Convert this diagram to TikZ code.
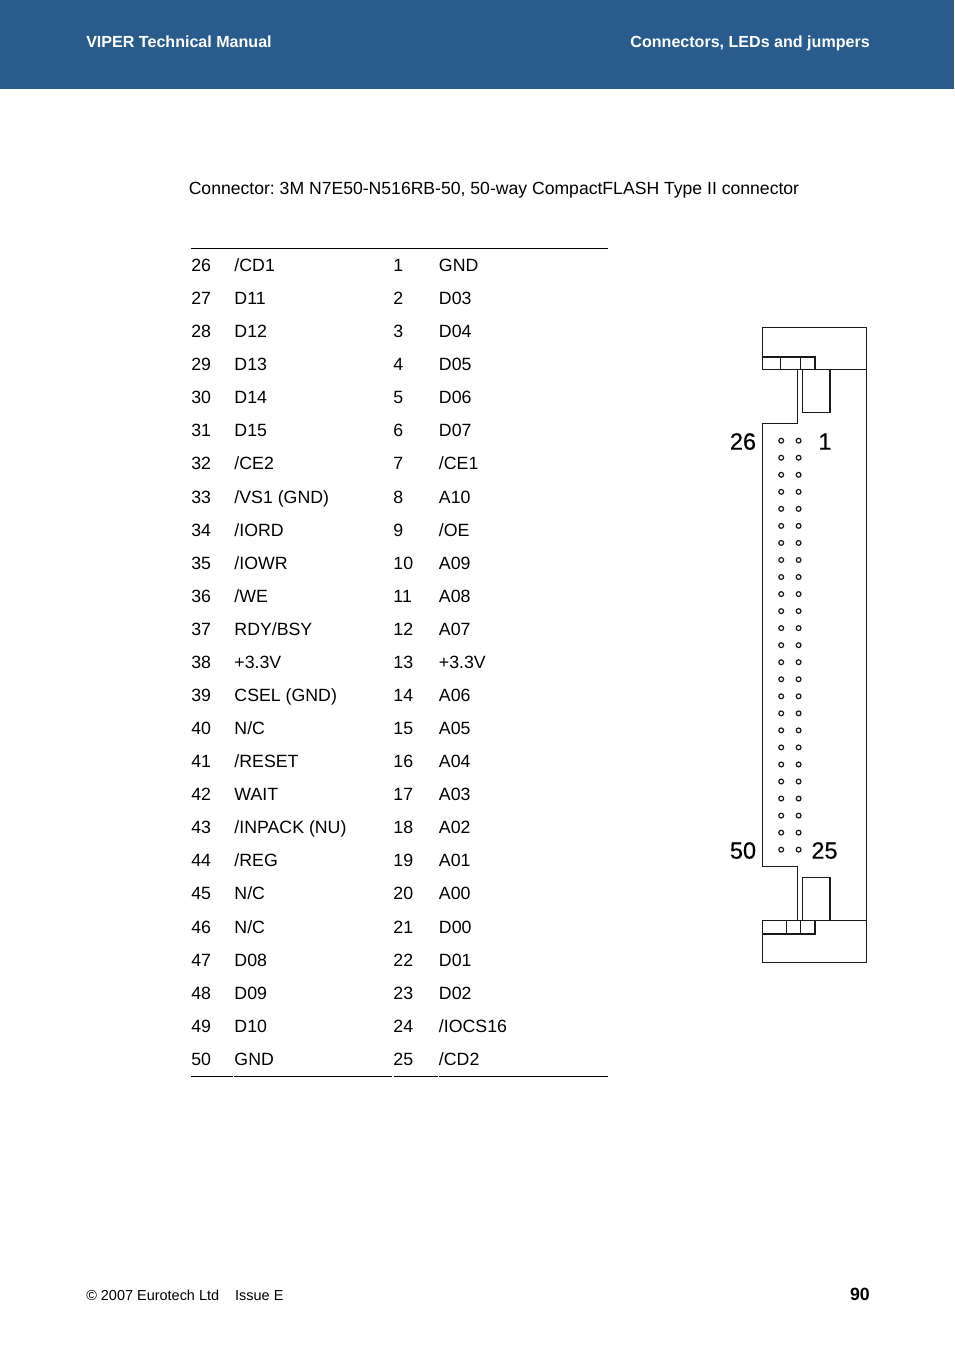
\documentclass[tikz,border=0pt]{standalone}
\usepackage{fontspec}
\setmainfont{Liberation Sans}
\newfontfamily\bignumfont[FakeBold=0.5]{Liberation Sans}
\definecolor{headerblue}{HTML}{2A5B8D}
\frenchspacing
\tikzset{
	pinlabel/.style={anchor=base west,inner sep=0pt,font=\fontsize{13.3}{16}\selectfont},
	headlabel/.style={inner sep=0pt,text=white,font=\fontsize{12.05}{15}\selectfont\bfseries},
	bignum/.style={inner sep=0pt,anchor=base,font=\fontsize{17.6}{20}\bignumfont},
	outline/.style={line width=0.9pt,black!90},
	rowrule/.style={line width=0.75pt,black}
}
\begin{document}
\begin{tikzpicture}[x=0.75pt,y=-0.75pt]
	\useasboundingbox (0,0) rectangle (954,1350);
	%HEADER
	\fill[headerblue] (0,0) rectangle (954,89);
	\node[headlabel,anchor=base west] (manual) at (86,47) {VIPER Technical Manual};
	\node[headlabel,anchor=base east] (chapter) at (870,47) {Connectors, LEDs and jumpers};
	%TITLE
	\node[pinlabel,font=\fontsize{13.2}{16}\selectfont] (title) at (188.5,194) {Connector: 3M N7E50-N516RB-50, 50-way CompactFLASH Type II connector};
	%TABLE
	\draw[rowrule] (191,248)--(608,248);
	\foreach \a/\b/\c/\d [count=\i from 0] in {
		26/{/CD1}/1/GND, 27/D11/2/D03, 28/D12/3/D04, 29/D13/4/D05, 30/D14/5/D06,
		31/D15/6/D07, 32/{/CE2}/7/{/CE1}, 33/{/VS1 (GND)}/8/A10, 34/{/IORD}/9/{/OE},
		35/{/IOWR}/10/A09, 36/{/WE}/11/A08, 37/{RDY/BSY}/12/A07, 38/+3.3V/13/+3.3V,
		39/{CSEL (GND)}/14/A06, 40/{N/C}/15/A05, 41/{/RESET}/16/A04, 42/WAIT/17/A03,
		43/{/INPACK (NU)}/18/A02, 44/{/REG}/19/A01, 45/{N/C}/20/A00, 46/{N/C}/21/D00,
		47/D08/22/D01, 48/D09/23/D02, 49/D10/24/{/IOCS16}, 50/GND/25/{/CD2}}{
		\node[pinlabel] (pinA\i) at (191,271.45+33.08*\i) {\a};
		\node[pinlabel] (nameA\i) at (234.2,271.45+33.08*\i) {\b};
		\node[pinlabel] (pinB\i) at (393.2,271.45+33.08*\i) {\c};
		\node[pinlabel] (nameB\i) at (438.7,271.45+33.08*\i) {\d};
	}
	\draw[rowrule] (191,1076.5)--(232.5,1076.5) (233.5,1076.5)--(392,1076.5);
	\draw[rowrule] (393.5,1076.5)--(437.5,1076.5) (438.5,1076.5)--(608,1076.5);
	%CONNECTOR TOP
	\draw[outline] (762.7,327.7) rectangle (866.7,369.5);
	\draw[outline] (762.7,356.9) rectangle (815,369.5);
	\draw[outline] (780.7,356.9)--(780.7,369.5) (800.3,356.9)--(800.3,369.5);
	\draw[outline] (802.3,369.5) rectangle (829.9,412.5);
	%CONNECTOR BODY
	\draw[outline] (797.5,369.5)--(797.5,423.3)--(762.7,423.3)--(762.7,866.2)--(797.5,866.2)--(797.5,920.5);
	\draw[outline] (866.7,369.5)--(866.7,920.5);
	%CONNECTOR BOTTOM
	\draw[outline] (762.7,920.5) rectangle (866.7,962.5);
	\draw[outline] (762.7,920.5) rectangle (815,933.9);
	\draw[outline] (786.3,920.5)--(786.3,933.9) (800.3,920.5)--(800.3,933.9);
	\draw[outline] (802.3,877.5) rectangle (829.9,920.5);
	%HOLES
	\foreach \i in {0,...,24}{
		\draw[outline] (781.2,440.7+17.04*\i) circle (2.4) (798.6,440.7+17.04*\i) circle (2.4);
	}
	\node[bignum] (pin26) at (743,449.6) {26};
	\node[bignum] (pin1) at (825,449.6) {1};
	\node[bignum] (pin50) at (743,858.6) {50};
	\node[bignum] (pin25) at (824.5,858.6) {25};
	%FOOTER
	\node[inner sep=0pt,anchor=base west,font=\fontsize{10.85}{13}\selectfont] (issue) at (86,1300) {© 2007 Eurotech Ltd\hspace{12pt}Issue E};
	\node[inner sep=0pt,anchor=base east,font=\fontsize{13.3}{16}\selectfont\bfseries] (page) at (870,1300) {90};
\end{tikzpicture}
\end{document}
